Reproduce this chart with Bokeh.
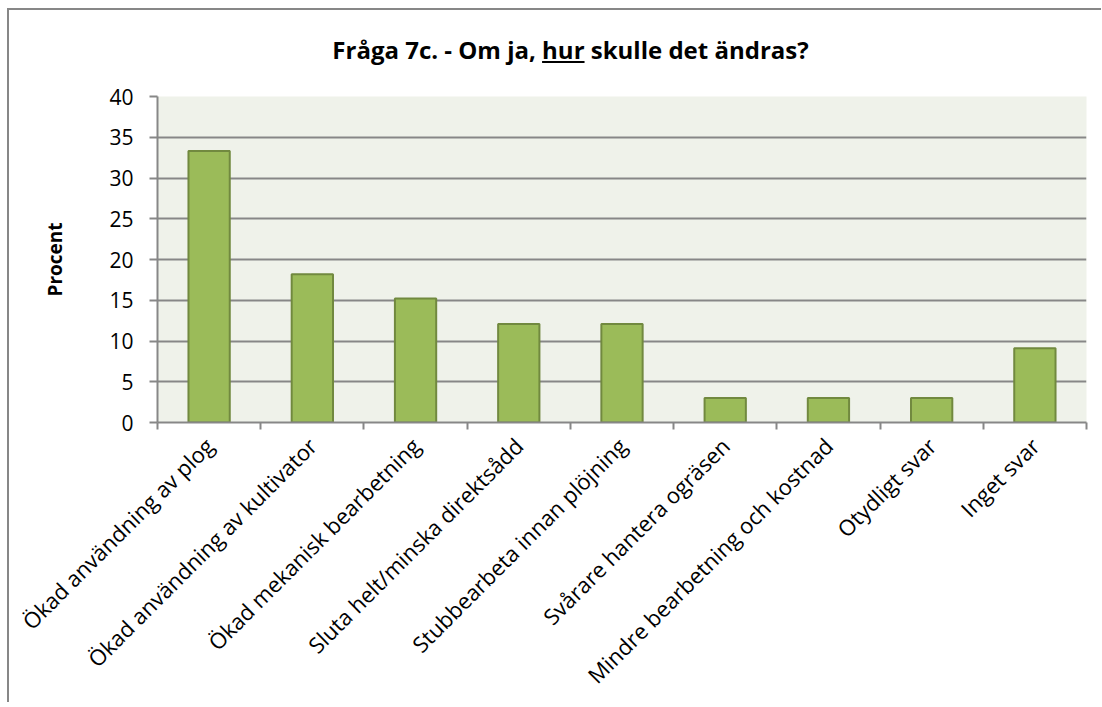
import math
from bokeh.plotting import figure
from bokeh.models import ColumnDataSource, FixedTicker, Range1d, Div
from bokeh.layouts import column
from bokeh.embed import file_html
from bokeh.resources import INLINE

# ---- data ----
categories = [
    "Ökad användning av plog",
    "Ökad användning av kultivator",
    "Ökad mekanisk bearbetning",
    "Sluta helt/minska direktsådd",
    "Stubbearbeta innan plöjning",
    "Svårare hantera ogräsen",
    "Mindre bearbetning och kostnad",
    "Otydligt svar",
    "Inget svar",
]
values = [33.3, 18.2, 15.2, 12.1, 12.1, 3.0, 3.0, 3.0, 9.1]
y_ticks = [0, 5, 10, 15, 20, 25, 30, 35, 40]
title_text = "Fråga 7c. - Om ja, <u>hur</u> skulle det ändras?"
y_label = "Procent"

# ---- styles ----
GRID = "#878787"
BAR_FILL = "#9BBB59"
BAR_LINE = "#71893F"
BG = "#EFF2EA"
FONT = "Open Sans"

centers = [i + 0.5 for i in range(len(categories))]
bounds = list(range(len(categories) + 1))
src = ColumnDataSource(dict(x=centers, top=values, cat=categories))

p = figure(
    frame_width=929, frame_height=326,
    min_border_left=148, min_border_right=15, min_border_top=16, min_border_bottom=266,
    x_range=Range1d(0, len(categories)), y_range=Range1d(0, 40),
    output_backend="svg", toolbar_location=None, tools="",
)
p.background_fill_color = BG
p.border_fill_color = "white"
p.outline_line_color = None

p.vbar(x="x", top="top", width=0.4, bottom=0, source=src,
       fill_color=BAR_FILL, line_color=BAR_LINE, line_width=2)

# x axis
xt = FixedTicker(ticks=centers, minor_ticks=bounds)
p.xaxis.ticker = xt
p.xaxis.major_label_overrides = {c: lab for c, lab in zip(centers, categories)}
p.xaxis.major_label_orientation = math.pi / 4
p.xaxis.major_tick_out = 0
p.xaxis.major_tick_in = 0
p.xaxis.minor_tick_out = 7
p.xaxis.minor_tick_in = 0
p.xaxis.minor_tick_line_color = GRID
p.xaxis.minor_tick_line_width = 2
p.xaxis.axis_line_color = GRID
p.xaxis.axis_line_width = 2
p.xaxis.major_label_text_font = FONT
p.xaxis.major_label_text_font_size = "22px"
p.xaxis.major_label_text_color = "black"
p.xaxis.major_label_standoff = 12

# y axis
p.yaxis.ticker = FixedTicker(ticks=y_ticks)
p.yaxis.major_tick_out = 8
p.yaxis.major_tick_in = 0
p.yaxis.major_tick_line_color = GRID
p.yaxis.major_tick_line_width = 2
p.yaxis.minor_tick_line_color = None
p.yaxis.axis_line_color = GRID
p.yaxis.axis_line_width = 2
p.yaxis.major_label_text_font = FONT
p.yaxis.major_label_text_font_size = "21px"
p.yaxis.major_label_text_color = "black"
p.yaxis.major_label_standoff = 16
p.yaxis.axis_label = y_label
p.yaxis.axis_label_text_font = FONT
p.yaxis.axis_label_text_font_style = "bold"
p.yaxis.axis_label_text_font_size = "19px"
p.yaxis.axis_label_text_color = "black"
p.yaxis.axis_label_standoff = 38

p.xgrid.grid_line_color = None
p.ygrid.grid_line_color = GRID
p.ygrid.grid_line_width = 2

title_div = Div(
    text=(
        '<div style="width:1092px;height:70px;box-sizing:border-box;padding-left:40px;'
        'padding-right:9px;padding-top:22px;text-align:center;line-height:36px;'
        'font-family:\'Open Sans\';font-weight:bold;font-size:24px;color:#000;">'
        + title_text + '</div>'
    ),
    width=1092, height=70,
    styles={"margin": "0px", "padding": "0px", "overflow": "hidden"},
)

layout = column(
    title_div, p,
    styles={"border-left": "2px solid #878787", "border-top": "2px solid #878787",
            "margin-left": "7px", "margin-top": "8px"},
)

open("out.html", "w").write(file_html(layout, INLINE))
